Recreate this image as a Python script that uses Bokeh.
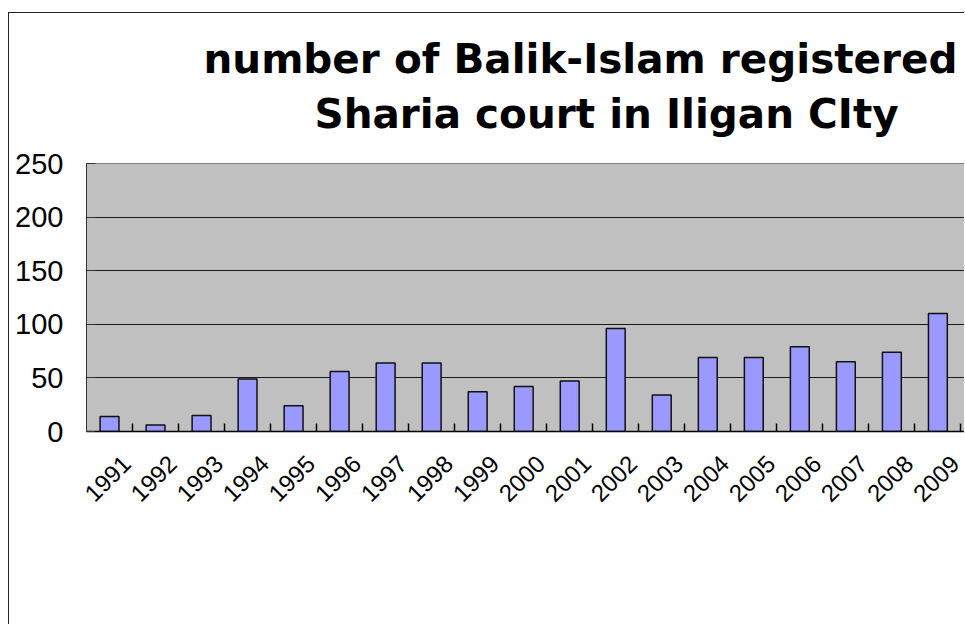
import math
from bokeh.plotting import figure
from bokeh.models import Range1d, FixedTicker, Title, InlineStyleSheet, LinearAxis
from bokeh.embed import file_html
from bokeh.resources import INLINE

# ---- data ----
years = [1991, 1992, 1993, 1994, 1995, 1996, 1997, 1998, 1999, 2000,
         2001, 2002, 2003, 2004, 2005, 2006, 2007, 2008, 2009]
counts = [14, 6, 15, 49, 24, 56, 64, 64, 37, 42,
          47, 96, 34, 69, 69, 79, 65, 74, 110]
year_labels = [str(y) for y in years]
y_ticks = [0, 50, 100, 150, 200, 250]
title_line1 = "number of Balik-Islam registered"
title_line2 = "Sharia court in Iligan CIty"

FONT = "Liberation Sans"
TFONT = "DejaVu Sans"
W, H = 956, 612

css = InlineStyleSheet(css=":host { border-top: 1px solid #222; border-left: 1px solid #222; "
                           "margin-top: 12px; margin-left: 8px; }")

p = figure(width=W, height=H, output_backend="svg", toolbar_location=None,
           title=None,
           x_range=Range1d(years[0] - 0.5, 2009.6), y_range=Range1d(0, 250),
           min_border_left=77, min_border_right=0,
           min_border_top=150, min_border_bottom=194,
           stylesheets=[css])

p.background_fill_color = "#C0C0C0"
p.border_fill_color = "white"
p.outline_line_color = "#808080"
p.outline_line_width = 1

p.vbar(x=years, top=counts, width=0.41, bottom=0,
       fill_color="#9999FF", line_color="#111111", line_width=1.5)

# y axis
yax = p.yaxis[0]
yax.ticker = FixedTicker(ticks=y_ticks)
yax.major_label_text_font = FONT
yax.major_label_text_font_size = "29px"
yax.major_label_text_color = "black"
yax.major_label_standoff = 23
yax.major_tick_in = 9
yax.major_tick_out = 0
yax.major_tick_line_color = "#333333"
yax.minor_tick_line_color = None
yax.axis_line_color = "#333333"

# x axis: tick marks on the boundaries between years (no labels)
xax = p.xaxis[0]
bounds = [y + 0.5 for y in years]
xax.ticker = FixedTicker(ticks=bounds)
xax.major_label_overrides = {b: "" for b in bounds}
xax.major_label_standoff = 0
xax.major_tick_in = 8
xax.major_tick_out = 0
xax.major_tick_line_color = "black"
xax.major_tick_line_width = 1.5
xax.minor_tick_line_color = None
xax.axis_line_color = "black"
xax.axis_line_width = 1.5

# second axis carrying the rotated year labels
label_pos = [y + 0.37 for y in years]
lab_ax = LinearAxis(ticker=FixedTicker(ticks=label_pos),
                    major_label_overrides={b: lab for b, lab in zip(label_pos, year_labels)},
                    major_label_orientation=math.pi / 4,
                    major_label_text_font=FONT,
                    major_label_text_font_size="24px",
                    major_label_text_color="black",
                    major_label_standoff=28,
                    major_tick_in=0, major_tick_out=0,
                    major_tick_line_color=None, minor_tick_line_color=None,
                    axis_line_color=None)
p.add_layout(lab_ax, "below")

p.xgrid.visible = False
p.ygrid.ticker = FixedTicker(ticks=y_ticks)
p.ygrid.grid_line_color = "#1a1a1a"
p.ygrid.grid_line_width = 1

t2 = Title(text=title_line2, align="left", offset=228, standoff=51,
           text_font=TFONT, text_font_size="40.5px", text_font_style="bold",
           text_color="black")
t1 = Title(text=title_line1, align="left", offset=117, standoff=-40,
           text_font=TFONT, text_font_size="40.5px", text_font_style="bold",
           text_color="black")
p.add_layout(t2, "above")
p.add_layout(t1, "above")

open("out.html", "w").write(file_html(p, INLINE))
